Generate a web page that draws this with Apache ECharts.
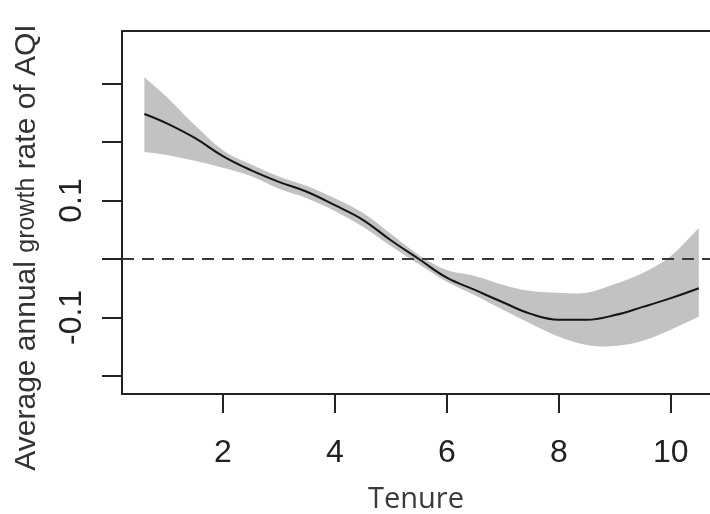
<!DOCTYPE html>
<html>
<head>
<meta charset="utf-8">
<script src="https://cdn.jsdelivr.net/npm/echarts@6/dist/echarts.min.js"></script>
<style>
  html, body { margin: 0; padding: 0; background: #fff; }
  #chart { width: 710px; height: 514px; }
</style>
</head>
<body>
<div id="chart"></div>
<script>
// smoothed effect of tenure, with its confidence band
var tenure = [0.6, 1.0, 1.5, 2.0, 2.5, 3.0, 3.5, 4.0, 4.5, 5.0, 5.5,
              6.0, 6.5, 7.0, 7.5, 8.0, 8.5, 9.0, 9.5, 10.0, 10.5];
var fitValues = [0.248, 0.232, 0.207, 0.176, 0.152, 0.132, 0.115, 0.092, 0.067, 0.032, 0.0,
                 -0.032, -0.053, -0.074, -0.094, -0.104, -0.104, -0.096, -0.082, -0.067, -0.050];
var upperValues = [0.311, 0.277, 0.229, 0.186, 0.162, 0.141, 0.125, 0.104, 0.079, 0.043, 0.007,
                   -0.019, -0.029, -0.044, -0.055, -0.058, -0.058, -0.043, -0.024, 0.005, 0.053];
var lowerValues = [0.183, 0.178, 0.168, 0.156, 0.142, 0.120, 0.104, 0.082, 0.055, 0.022, -0.009,
                   -0.039, -0.062, -0.087, -0.111, -0.133, -0.147, -0.149, -0.140, -0.121, -0.099];
var xTicks = [2, 4, 6, 8, 10];
var yTicks = [-0.2, -0.1, 0, 0.1, 0.2, 0.3];
var yLabels = [-0.1, 0.1];

var fontMain = 'Liberation Sans, Arial, sans-serif';

function pairs(xs, ys) {
  return xs.map(function (x, i) { return [x, ys[i]]; });
}
var bandData = tenure.map(function (t, i) { return [t, lowerValues[i], upperValues[i]]; });

// catmull-rom curve through pixel points, as svg path commands
function curvePath(pts, start) {
  var d = start ? 'M' + pts[0][0] + ',' + pts[0][1] : 'L' + pts[0][0] + ',' + pts[0][1];
  for (var i = 0; i < pts.length - 1; i++) {
    var p0 = pts[Math.max(i - 1, 0)], p1 = pts[i], p2 = pts[i + 1], p3 = pts[Math.min(i + 2, pts.length - 1)];
    var c1 = [p1[0] + (p2[0] - p0[0]) / 6, p1[1] + (p2[1] - p0[1]) / 6];
    var c2 = [p2[0] - (p3[0] - p1[0]) / 6, p2[1] - (p3[1] - p1[1]) / 6];
    d += 'C' + c1[0] + ',' + c1[1] + ' ' + c2[0] + ',' + c2[1] + ' ' + p2[0] + ',' + p2[1];
  }
  return d;
}

function renderBand(params, api) {
  if (params.dataIndexInside !== 0) return;
  var n = params.dataInsideLength;
  var top = [], bottom = [];
  for (var i = 0; i < n; i++) {
    var t = api.value(0, i);
    top.push(api.coord([t, api.value(2, i)]));
    bottom.push(api.coord([t, api.value(1, i)]));
  }
  var d = curvePath(top, true) + curvePath(bottom.reverse(), false) + 'Z';
  return {
    type: 'path',
    shape: { pathData: d },
    style: { fill: '#c2c2c2', stroke: null }
  };
}

var chart = echarts.init(document.getElementById('chart'));
var option = {
  backgroundColor: '#fff',
  animation: false,
  grid: { left: 122, top: 31, right: 0, bottom: 120, outerBoundsMode: 'none', containLabel: false },
  xAxis: [{
    type: 'value',
    min: 0.2, max: 10.7,
    name: 'Tenure',
    nameLocation: 'middle',
    nameGap: 91,
    nameTextStyle: { fontFamily: 'Open Sans, sans-serif', fontSize: 29, color: '#3a3a3a' },
    axisLine: { show: true, onZero: false, lineStyle: { color: '#222', width: 2 } },
    axisTick: { show: true, customValues: xTicks, length: 19, lineStyle: { color: '#222', width: 2 } },
    axisLabel: {
      customValues: xTicks, margin: 43,
      fontFamily: fontMain, fontSize: 32, color: '#222'
    },
    splitLine: { show: false }
  }, {
    // top edge of the box
    type: 'value',
    position: 'top',
    min: 0.2, max: 10.7,
    axisLine: { show: true, onZero: false, lineStyle: { color: '#222', width: 2 } },
    axisTick: { show: false },
    axisLabel: { show: false },
    splitLine: { show: false }
  }],
  yAxis: {
    type: 'value',
    min: -0.231, max: 0.39,
    name: '{a|Average annual }{b|growth}{a| rate of AQI}',
    nameLocation: 'middle',
    nameGap: 80,
    nameTextStyle: {
      color: '#333',
      padding: [0, 70, 0, 0],
      rich: {
        a: { fontFamily: fontMain, fontSize: 30, color: '#333' },
        b: { fontFamily: fontMain, fontSize: 25, color: '#333' }
      }
    },
    axisLine: { show: true, onZero: false, lineStyle: { color: '#222', width: 2 } },
    axisTick: { show: true, customValues: yTicks, length: 20, lineStyle: { color: '#222', width: 2 } },
    axisLabel: {
      customValues: yLabels, rotate: 90, margin: 34,
      fontFamily: fontMain, fontSize: 32, color: '#222'
    },
    splitLine: { show: false }
  },
  series: [
    {
      name: 'band',
      type: 'custom',
      renderItem: renderBand,
      data: bandData,
      encode: { x: 0, y: [1, 2] },
      silent: true,
      z: 1
    },
    {
      name: 'fit',
      type: 'line',
      data: pairs(tenure, fitValues),
      smooth: 0.4,
      symbol: 'none',
      lineStyle: { color: '#151515', width: 2 },
      markLine: {
        silent: true,
        symbol: 'none',
        label: { show: false },
        lineStyle: { color: '#3a3a3a', width: 2, type: [12, 8] },
        data: [{ yAxis: 0 }]
      },
      z: 3
    }
  ]
};
chart.setOption(option);
</script>
</body>
</html>
